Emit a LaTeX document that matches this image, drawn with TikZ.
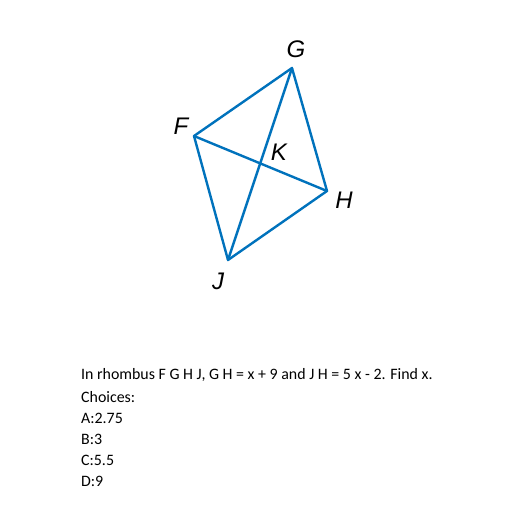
\documentclass[tikz,border=0pt]{standalone}
\usepackage{fontspec}
\setmainfont{Carlito}
\newfontfamily\lblfont{Liberation Sans}
\definecolor{rblue}{RGB}{0,114,188}
\begin{document}
\begin{tikzpicture}[x=1pt,y=-1pt,
  edge/.style={draw=rblue,line width=2.4pt,line join=round,line cap=round},
  vlabel/.style={font=\lblfont\itshape\fontsize{24}{24}\selectfont,inner sep=0pt},
  qtext/.style={font=\fontsize{15.9}{21}\selectfont,anchor=west,inner sep=0pt}]
\useasboundingbox (0,0) rectangle (512,512);
\coordinate (G) at (292,68);
\coordinate (F) at (194,136);
\coordinate (H) at (327,191);
\coordinate (J) at (228,260);
\draw[edge] (G) -- (F) -- (J) -- (H) -- cycle;
\draw[edge] (F) -- (H);
\draw[edge] (G) -- (J);
\node[vlabel] (lG) at (296,49) {G};
\node[vlabel] (lF) at (181,126) {F};
\node[vlabel] (lK) at (279,152) {K};
\node[vlabel] (lH) at (344,200) {H};
\node[vlabel] (lJ) at (218,281) {J};
\node[qtext] (q) at (81,375) {In rhombus F G H J, G H = x + 9 and J H = 5 x - 2. Find x.};
\node[qtext] (c0) at (81,397) {Choices:};
\node[qtext] (c1) at (81,418) {A:2.75};
\node[qtext] (c2) at (81,439) {B:3};
\node[qtext] (c3) at (81,460) {C:5.5};
\node[qtext] (c4) at (81,481) {D:9};
\end{tikzpicture}
\end{document}
